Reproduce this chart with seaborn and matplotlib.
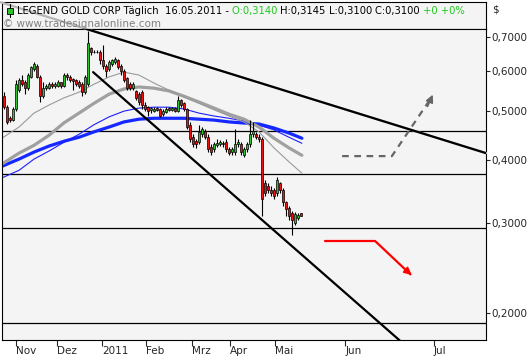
import numpy as np
import pandas as pd
import seaborn as sns
import matplotlib.pyplot as plt
from matplotlib.patches import Rectangle
from matplotlib.ticker import NullLocator

sns.set_style('white')
plt.rcParams['font.family'] = ['DejaVu Sans']

# daily candles (thinly traded, one slot per traded day)
opens = [.535, .51, .485, .48, .505, .55, .575, .57, .555, .585,
         .605, .615, .585, .535, .555, .555, .565, .56, .56, .57,
         .56, .59, .585, .578, .575, .57, .565, .545, .565, .665,
         .655, .655, .655, .63, .615, .605, .62, .625, .632, .615,
         .60, .58, .565, .555, .548, .54, .545, .515, .51, .502,
         .50, .507, .505, .493, .498, .507, .503, .507, .50, .525,
         .518, .505, .47, .445, .437, .435, .45, .457, .445, .425,
         .42, .428, .43, .433, .435, .42, .415, .415, .43, .43,
         .41, .42, .43, .45, .45, .445, .44, .36, .355, .35,
         .35, .345, .36, .35, .33, .322, .315, .30, .308, .314]
highs = [.545, .515, .49, .51, .575, .58, .59, .575, .595, .615,
         .625, .62, .59, .57, .565, .57, .57, .57, .575, .572,
         .595, .595, .59, .58, .578, .575, .57, .59, .72, .67,
         .66, .66, .66, .675, .62, .63, .635, .64, .635, .62,
         .605, .585, .57, .57, .55, .545, .55, .52, .512, .51,
         .51, .51, .508, .505, .51, .51, .51, .51, .535, .528,
         .52, .507, .475, .45, .44, .47, .465, .46, .45, .43,
         .435, .44, .438, .436, .44, .425, .425, .46, .44, .435,
         .425, .435, .48, .475, .455, .45, .445, .365, .36, .355,
         .352, .37, .362, .352, .333, .325, .318, .316, .315, .3145]
lows = [.505, .472, .475, .478, .50, .545, .56, .54, .55, .58,
        .60, .58, .52, .53, .55, .553, .555, .555, .558, .555,
        .558, .575, .57, .55, .56, .555, .535, .54, .56, .645,
        .65, .65, .62, .605, .585, .60, .615, .62, .605, .59,
        .57, .55, .55, .55, .525, .515, .505, .50, .49, .495,
        .498, .50, .487, .49, .495, .50, .50, .497, .497, .51,
        .50, .46, .435, .425, .423, .43, .445, .44, .415, .41,
        .415, .425, .427, .425, .415, .41, .41, .41, .425, .41,
        .405, .415, .425, .445, .44, .435, .31, .34, .345, .34,
        .335, .34, .345, .325, .31, .305, .285, .298, .305, .31]
closes = [.51, .475, .48, .505, .565, .575, .565, .555, .59, .61,
          .62, .585, .535, .555, .56, .565, .56, .565, .57, .56,
          .59, .585, .575, .573, .565, .56, .545, .585, .68, .655,
          .655, .653, .63, .615, .60, .625, .632, .635, .612, .60,
          .575, .555, .555, .565, .53, .52, .515, .505, .50, .507,
          .505, .503, .49, .50, .505, .503, .507, .50, .525, .515,
          .505, .465, .44, .43, .43, .455, .46, .445, .42, .415,
          .43, .432, .435, .43, .42, .413, .42, .43, .435, .415,
          .42, .43, .45, .457, .445, .44, .335, .345, .35, .345,
          .34, .365, .35, .33, .32, .31, .305, .313, .312, .31]

# moving averages at these slots
ma_slot = [-0.7, 5, 10, 15, 20, 25, 30, 35, 40, 45, 50,
           55, 60, 65, 70, 75, 80, 85, 90, 95, 99.3]
ma_thin_gray = [.442, .465, .4955, .514, .531, .545, .565, .584, .597, .589, .568,
                .550, .533, .518, .503, .489, .476, .455, .423, .397, .377]
ma_thick_gray = [.393, .413, .428, .448, .474, .4955, .518, .540, .553, .558, .555,
                 .548, .535, .521, .507, .493, .482, .465, .442, .423, .409]
ma_thin_blue = [.369, .382, .402, .417, .434, .450, .470, .487, .500, .507, .509,
                .509, .505, .4955, .489, .484, .478, .469, .459, .444, .432]
ma_thick_blue = [.389, .402, .415, .4265, .436, .444, .455, .465, .476, .482, .484,
                 .484, .484, .482, .480, .476, .4736, .4715, .463, .4525, .442]

month_pos = [4.0, 17.7, 32.7, 47.3, 62.7, 75.3, 90.3, 113.7, 143.3]
month_labels = ['Nov', 'Dez', '2011', 'Feb', 'Mrz', 'Apr', 'Mai', 'Jun', 'Jul']
price_ticks = [0.2, 0.3, 0.4, 0.5, 0.6, 0.7]
price_labels = ['0,2000', '0,3000', '0,4000', '0,5000', '0,6000', '0,7000']
levels = [0.457, 0.3756, 0.2934, 0.1905]

header_parts = [('LEGEND GOLD CORP Täglich  ', 'black'), ('16.05.2011 - ', 'black'),
                ('O:0,3140 ', '#1ec81e'), ('H:0,3145 ', 'black'), ('L:0,3100 ', 'black'),
                ('C:0,3100 ', 'black'), ('+0 +0%', '#1ec81e')]

df = pd.DataFrame({'open': opens, 'high': highs, 'low': lows, 'close': closes})
df['slot'] = np.arange(len(df))
ma = pd.DataFrame({'slot': ma_slot, 'tg': ma_thin_gray, 'kg': ma_thick_gray,
                   'tb': ma_thin_blue, 'kb': ma_thick_blue})

W, H = 531, 360
fig = plt.figure(figsize=(W / 100, H / 100), dpi=100, facecolor='white')
head = fig.add_axes([2 / W, 1 - 29.3 / H, 484 / W, 27.3 / H])
head.set_facecolor('#f4f4f4')
head.set_xticks([])
head.set_yticks([])
for s in head.spines.values():
    s.set_linewidth(0.8)
    s.set_color('black')

ax = fig.add_axes([2 / W, 20 / H, 484 / W, 310.7 / H])
ax.set_facecolor('#f4f4f4')
ax.set_yscale('log')
ax.set_xlim(-0.67, 160.67)
ax.set_ylim(0.1766, 0.7253)

for lv in levels:
    ax.axhline(lv, color='black', lw=0.9, zorder=1)

# moving averages
sns.lineplot(data=ma, x='slot', y='kb', ax=ax, color='#1428ff', lw=2.3, zorder=2)
sns.lineplot(data=ma, x='slot', y='tb', ax=ax, color='#1e1eff', lw=0.8, zorder=2)
sns.lineplot(data=ma, x='slot', y='kg', ax=ax, color='#a0a0a0', lw=2.3, zorder=2)
sns.lineplot(data=ma, x='slot', y='tg', ax=ax, color='#9a9a9a', lw=0.8, zorder=2)

# candles
ax.vlines(df['slot'], df['low'], df['high'], color='black', lw=0.8, zorder=3)
up = df['close'] >= df['open']
body_lo = np.minimum(df['open'], df['close'])
body_h = np.abs(df['close'] - df['open'])
ax.bar(df['slot'][up], body_h[up], bottom=body_lo[up], width=0.9,
       color='#2fbf2f', edgecolor='black', lw=0.5, zorder=4)
ax.bar(df['slot'][~up], body_h[~up], bottom=body_lo[~up], width=0.9,
       color='#ee1111', edgecolor='black', lw=0.5, zorder=4)

# trend lines
ax.plot([-1.33, 160.7], [0.8207, 0.413], color='#b4b4b4', lw=1.6, clip_on=False, zorder=5)
ax.plot([-1.33, 160.7], [0.8207, 0.413], color='black', lw=1.6, zorder=6)
ax.plot([29.7, 140], [0.597, 0.16], color='black', lw=1.6, zorder=6)

# scenario arrows
ax.plot([112.7, 129.3, 142.3], [0.4075, 0.4075, 0.53], color='#666666', lw=1.6,
        ls=(0, (3, 2.5)), zorder=6)
ax.annotate('', xy=(143.3, 0.545), xytext=(140.8, 0.505),
            arrowprops=dict(arrowstyle='-|>', color='#666666', lw=1.2, mutation_scale=11))
ax.plot([107, 123.7, 135.5], [0.277, 0.277, 0.238], color='#ff0000', lw=1.6, zorder=6)
ax.annotate('', xy=(136.6, 0.2355), xytext=(133.5, 0.244),
            arrowprops=dict(arrowstyle='-|>', color='#ff0000', lw=1.2, mutation_scale=11))

ax.set_xlabel('')
ax.set_ylabel('')
ax.set_xticks(month_pos)
ax.set_xticklabels(month_labels, ha='left')
ax.yaxis.tick_right()
ax.set_yticks(price_ticks)
ax.set_yticklabels(price_labels)
ax.yaxis.set_minor_locator(NullLocator())
ax.tick_params(axis='x', direction='out', length=4, width=0.8, pad=0,
               labelsize=7.5, bottom=True)
ax.tick_params(axis='y', direction='out', length=3, width=0.8, pad=1,
               labelsize=7.5, right=True, left=False)
for s in ax.spines.values():
    s.set_linewidth(0.8)
    s.set_color('black')

# header: icon, then text pieces laid out one after another
fig.patches.append(Rectangle((7 / W, 1 - 14 / H), 6 / W, 6 / H, transform=fig.transFigure,
                             facecolor='#2fbf2f', edgecolor='black', lw=0.6, zorder=5))
fig.lines.append(plt.Line2D([10 / W, 10 / W], [1 - 4 / H, 1 - 17 / H],
                            transform=fig.transFigure, color='black', lw=0.8))
renderer = fig.canvas.get_renderer()
xpos = 17
for txt, col in header_parts:
    t = fig.text(xpos / W, 1 - 11 / H, txt, fontsize=7.2, va='center', color=col)
    xpos += t.get_window_extent(renderer).width
fig.text(3 / W, 1 - 24 / H, '© www.tradesignalonline.com', fontsize=7.5, va='center',
         color='#808080', zorder=7)
fig.text(492 / W, 1 - 10 / H, '$', fontsize=7.5, va='center')

fig.savefig('out.png', dpi=100, facecolor='white')
